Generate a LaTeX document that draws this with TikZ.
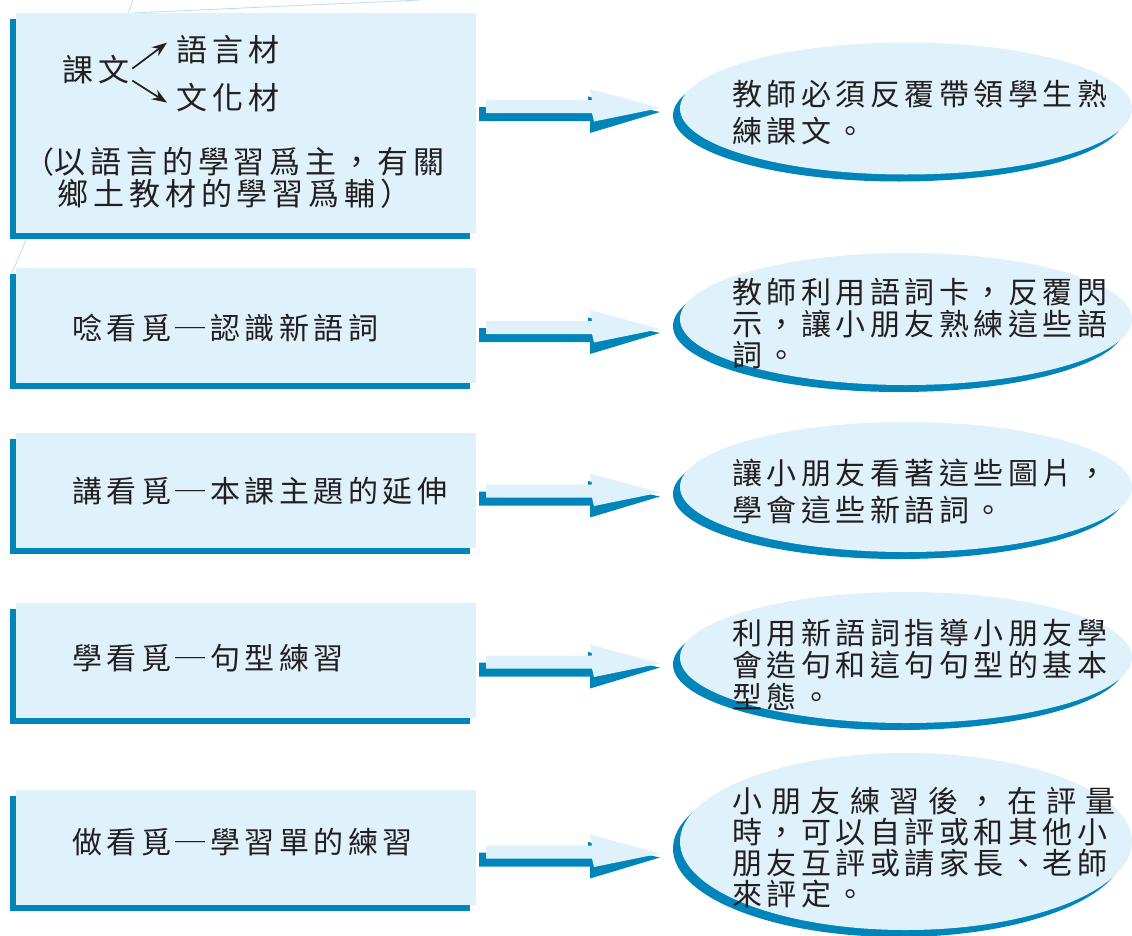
\documentclass[tikz,border=0pt]{standalone}
\usepackage{fontspec}
\newfontfamily\cjk[LetterSpace=15]{Noto Sans CJK TC}
\newfontfamily\cjkw[LetterSpace=31]{Noto Sans CJK TC}
\newfontfamily\cjkb[LetterSpace=16]{Noto Sans CJK TC}
\newfontfamily\cjkn{Noto Sans CJK TC}
\usetikzlibrary{arrows.meta}
\definecolor{lightfill}{RGB}{223,241,250}
\definecolor{darkblue}{RGB}{0,133,186}
\definecolor{inkc}{RGB}{35,31,32}
\definecolor{faint}{RGB}{185,222,238}
\newcommand\blockarrow[1]{%
  \begin{scope}[shift={(0,#1)}]
    \fill[darkblue] (479,0.5) -- (588,0.5) -- (588,-10) -- (660,5.5) -- (590,26.5) -- (590,14.5) -- (479,14.5) -- cycle;
    \fill[lightfill] (486,-6.5) -- (592,-6.5) -- (590,-17.5) -- (660,1.5) -- (594,15) -- (592,6.5) -- (486,6.5) -- cycle;
  \end{scope}}
\newcommand\bubble[2]{%
  \fill[darkblue] (899,#1+7) ellipse [x radius=226pt, y radius=#2 pt];
  \fill[lightfill] (906,#1) ellipse [x radius=226pt, y radius=#2 pt];}
\newcommand\panel[2]{%
  \fill[darkblue] (10,#1+6) rectangle (470,#2+6);
  \fill[lightfill] (16,#1) rectangle (476,#2);}
\begin{document}
\begin{tikzpicture}[x=1pt,y=-1pt,
  txt/.style={anchor=base west, inner sep=0pt, text=inkc, font={\cjk\fontsize{30}{34}\selectfont}},
  txtb/.style={anchor=base west, inner sep=0pt, text=inkc, font={\cjkb\fontsize{31}{35}\selectfont}},
  txtw/.style={anchor=base west, inner sep=0pt, text=inkc, font={\cjkw\fontsize{30}{34}\selectfont}},
  arr/.style={draw=inkc, line width=1.7pt, -{Stealth[length=15pt,width=11pt]}},
  faintline/.style={draw=faint, line width=0.8pt}]
\useasboundingbox (0,0) rectangle (1132,935);
\fill[white] (0,0) rectangle (1132,935);

% faint guide lines
\draw[faintline] (133,0) -- (128,13);
\draw[faintline] (132,13) -- (420,0);
\draw[faintline] (26,240) -- (12,273);

% left panels
\panel{13}{233}
\panel{268}{383}
\panel{433}{548}
\panel{603}{718}
\panel{790}{905}

% block arrows
\blockarrow{106.5}
\blockarrow{327.5}
\blockarrow{491}
\blockarrow{662}
\blockarrow{852}

% bubbles
\bubble{108.5}{66}
\bubble{319}{66}
\bubble{487}{65}
\bubble{657.5}{65.5}
\bubble{841.5}{88.5}

% panel 1 text
\node[txtb] (kewen) at (62,81.5) {課文};
\node[txtb] (yuyan) at (176,61.5) {語言材};
\node[txtb] (wenhua) at (176,109.5) {文化材};
\draw[arr] ([xshift=3pt,yshift=1pt]kewen.east) -- ([xshift=-9pt,yshift=7pt]yuyan.west);
\draw[arr] ([xshift=3pt,yshift=-11pt]kewen.east) -- ([xshift=-9pt,yshift=-5pt]wenhua.west);
\node[anchor=base east, inner sep=0pt, text=inkc, font={\cjkn\fontsize{30}{34}\selectfont}] (paren) at (55,173.5) {（};
\node[txtb] (p1a) at (54,173.5) {以語言的學習爲主，有關};
\node[txtb] (p1b) at (57,205.5) {鄉土教材的學習爲輔）};

% other panels
\node[txt] (p2) at (72,339.5) {唸看覓─認識新語詞};
\node[txt] (p3) at (72,502.5) {講看覓─本課主題的延伸};
\node[txt] (p4) at (72,669) {學看覓─句型練習};
\node[txt] (p5) at (72,853.5) {做看覓─學習單的練習};

% bubble texts
\node[txt] (e1a) at (732,105.5) {教師必須反覆帶領學生熟};
\node[txt] (e1b) at (732,142.5) {練課文。};

\node[txt] (e2a) at (732,303.5) {教師利用語詞卡，反覆閃};
\node[txt] (e2b) at (732,335) {示，讓小朋友熟練這些語};
\node[txt] (e2c) at (732,366.5) {詞。};

\node[txt] (e3a) at (732,484) {讓小朋友看著這些圖片，};
\node[txt] (e3b) at (732,521.5) {學會這些新語詞。};

\node[txt] (e4a) at (732,644.5) {利用新語詞指導小朋友學};
\node[txt] (e4b) at (732,676.5) {會造句和這句句型的基本};
\node[txt] (e4c) at (732,708.5) {型態。};

\node[txtw] (e5a) at (732,812.5) {小朋友練習後，在評量};
\node[txt] (e5b) at (732,843.5) {時，可以自評或和其他小};
\node[txt] (e5c) at (732,874.5) {朋友互評或請家長、老師};
\node[txt] (e5d) at (732,905.5) {來評定。};
\end{tikzpicture}
\end{document}
